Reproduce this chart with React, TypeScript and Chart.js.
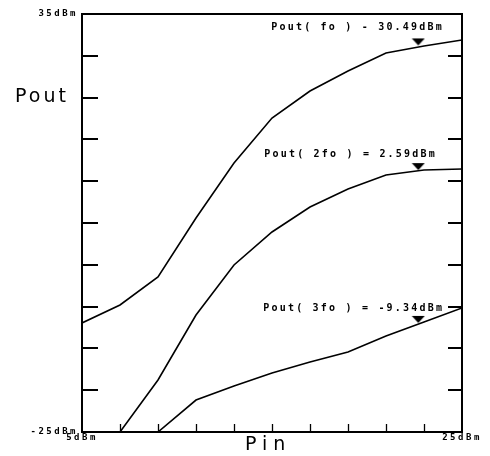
import { useEffect, useRef } from "react";
import { Chart, registerables } from "chart.js";
Chart.register(...registerables);

// Pin (dBm) sample points and Pout (dBm) for each harmonic
const pinFo = [5, 7, 9, 11, 13, 15, 17, 19, 21, 23, 25];
const poutFo = [-9.35, -6.77, -2.75, 5.72, 13.61, 20.07, 23.95, 26.82, 29.4, 30.41, 31.27];
const pin2fo = [7, 9, 11, 13, 15, 17, 19, 21, 23, 25];
const pout2fo = [-25, -17.54, -8.21, -1.03, 3.71, 7.3, 9.88, 11.89, 12.61, 12.75];
const pin3fo = [9, 11, 13, 15, 17, 19, 21, 23, 25];
const pout3fo = [-25, -20.41, -18.4, -16.53, -14.95, -13.52, -11.22, -9.21, -7.2];

const markerPin = [22.7, 22.7, 22.7];
const markerPout = [30.49, 12.59, -9.34];
const markerLabels = ["Pout( fo ) - 30.49dBm", "Pout( 2fo ) = 2.59dBm", "Pout( 3fo ) = -9.34dBm"];

const xMin = 5;
const xMax = 25;
const xStep = 2;
const yMin = -25;
const yMax = 35;
const yStep = 6;
const xEndLabels = ["5dBm", "25dBm"];
const yEndLabels = ["-25dBm", "35dBm"];
const xTitle = "Pin";
const yTitle = "Pout";

function toPoints(xs: number[], ys: number[]) {
  return xs.map((x, i) => ({ x, y: ys[i] }));
}

function makeTriangle(): HTMLCanvasElement {
  const c = document.createElement("canvas");
  c.width = 14;
  c.height = 16;
  const g = c.getContext("2d")!;
  g.fillStyle = "#000";
  g.beginPath();
  g.moveTo(0.5, 1);
  g.lineTo(13.5, 1);
  g.lineTo(7, 8);
  g.closePath();
  g.fill();
  return c;
}

const labelOffsets = [
  [-147, -18],
  [-154, -16],
  [-155, -14],
];

const framePlugin = {
  id: "frame",
  beforeDraw(chart: any) {
    const ctx = chart.ctx;
    ctx.save();
    ctx.fillStyle = "#fff";
    ctx.fillRect(0, 0, chart.width, chart.height);
    ctx.restore();
    ctx.letterSpacing = "2.5px";
  },
  afterDraw(chart: any) {
    const ctx = chart.ctx;
    const a = chart.chartArea;
    const xs = chart.scales.x;
    const ys = chart.scales.y;
    ctx.save();
    ctx.letterSpacing = "0px";
    ctx.strokeStyle = "#000";
    ctx.lineWidth = 2;
    ctx.strokeRect(a.left, a.top, a.right - a.left, a.bottom - a.top);
    // y ticks, inward on both sides
    ctx.lineWidth = 2;
    for (let v = yMin + yStep; v < yMax; v += yStep) {
      const py = Math.round(ys.getPixelForValue(v));
      ctx.beginPath();
      ctx.moveTo(a.left, py);
      ctx.lineTo(a.left + 16, py);
      ctx.moveTo(a.right, py);
      ctx.lineTo(a.right - 14, py);
      ctx.stroke();
    }
    // x ticks, inward from bottom
    ctx.lineWidth = 1.3;
    for (let v = xMin + xStep; v < xMax; v += xStep) {
      const px = Math.round(xs.getPixelForValue(v)) + 0.5;
      ctx.beginPath();
      ctx.moveTo(px, a.bottom);
      ctx.lineTo(px, a.bottom - 8);
      ctx.stroke();
    }
    // marker annotations
    ctx.fillStyle = "#000";
    ctx.font = "bold 10px 'DejaVu Sans Mono'";
    ctx.letterSpacing = "2.2px";
    ctx.textBaseline = "middle";
    ctx.textAlign = "left";
    markerLabels.forEach((t, i) => {
      const px = xs.getPixelForValue(markerPin[i]);
      const py = ys.getPixelForValue(markerPout[i]);
      ctx.fillText(t, px + labelOffsets[i][0], py + labelOffsets[i][1]);
    });
    // axis titles
    ctx.font = "19px 'DejaVu Sans'";
    ctx.letterSpacing = "3px";
    ctx.fillText(yTitle, 15, 97);
    ctx.letterSpacing = "6px";
    ctx.fillText(xTitle, 245, 445);
    ctx.restore();
    ctx.letterSpacing = "0px";
  },
};

export default function App() {
  const ref = useRef<HTMLCanvasElement | null>(null);
  useEffect(() => {
    if (!ref.current) return;
    const tri = makeTriangle();
    const line = (label: string, data: any) => ({
      label,
      data,
      borderColor: "#000",
      borderWidth: 1.6,
      pointRadius: 0,
      tension: 0,
      fill: false,
    });
    const chart = new Chart(ref.current, {
      type: "line",
      data: {
        datasets: [
          line("Pout(fo)", toPoints(pinFo, poutFo)),
          line("Pout(2fo)", toPoints(pin2fo, pout2fo)),
          line("Pout(3fo)", toPoints(pin3fo, pout3fo)),
          {
            label: "markers",
            data: toPoints(markerPin, markerPout),
            showLine: false,
            pointStyle: tri as any,
            pointRadius: 7,
            borderColor: "#000",
            backgroundColor: "#000",
          } as any,
        ],
      },
      options: {
        responsive: false,
        animation: false,
        events: [],
        layout: { padding: { top: 14, right: 28, left: 0, bottom: 0 } },
        plugins: { legend: { display: false }, tooltip: { enabled: false }, title: { display: false } },
        scales: {
          x: {
            type: "linear",
            min: xMin,
            max: xMax,
            grid: { display: false, drawTicks: false },
            border: { display: false },
            afterFit: (s: any) => {
              s.height = 24;
            },
            ticks: {
              stepSize: xStep,
              autoSkip: false,
              maxRotation: 0,
              padding: 0,
              color: "#000",
              font: { family: "'DejaVu Sans Mono'", size: 9, weight: "bold" },
              callback: (v: any) => (v === xMin ? xEndLabels[0] : v === xMax ? xEndLabels[1] : ""),
            },
          },
          y: {
            type: "linear",
            min: yMin,
            max: yMax,
            grid: { display: false, drawTicks: false },
            border: { display: false },
            afterFit: (s: any) => {
              s.width = 82;
            },
            ticks: {
              stepSize: yStep,
              autoSkip: false,
              padding: 4,
              color: "#000",
              font: { family: "'DejaVu Sans Mono'", size: 9, weight: "bold" },
              callback: (v: any) => (v === yMin ? yEndLabels[0] : v === yMax ? yEndLabels[1] : ""),
            },
          },
        },
      },
      plugins: [framePlugin as any],
    });
    return () => chart.destroy();
  }, []);
  return (
    <div style={{ position: "fixed", left: 0, top: 0, width: 490, height: 456, background: "#fff" }}>
      <canvas ref={ref} width={490} height={456} />
    </div>
  );
}
